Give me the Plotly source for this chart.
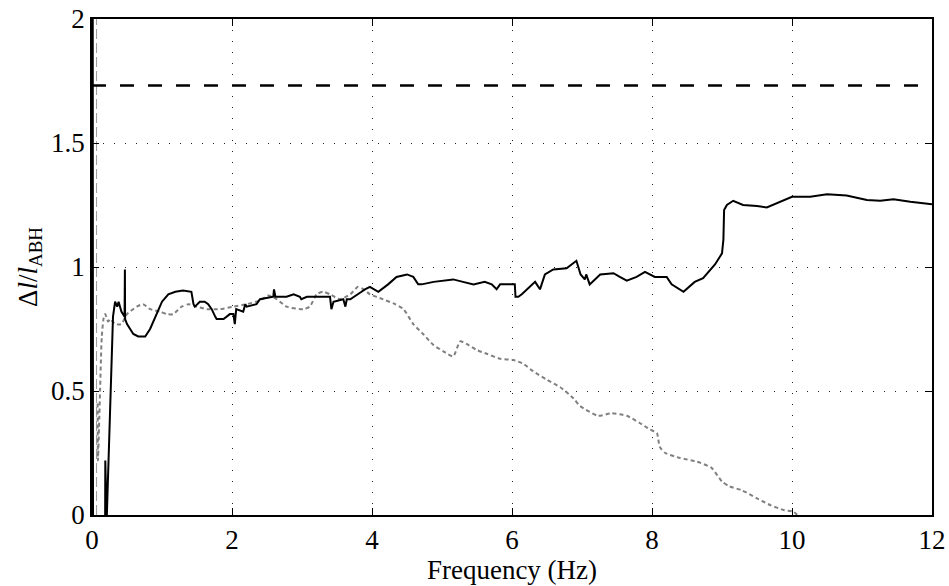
import plotly.graph_objects as go

# ---- data ----
black_x = [0.01, 0.015, 0.185, 0.19, 0.21, 0.30, 0.33, 0.36, 0.38, 0.42, 0.465, 0.47, 0.473, 0.50,
           0.59, 0.66, 0.76, 0.83, 0.92, 1.00, 1.09, 1.19, 1.30, 1.42, 1.45, 1.47, 1.54, 1.61,
           1.66, 1.71, 1.76, 1.78, 1.88, 1.97, 2.02, 2.04, 2.06, 2.16, 2.19, 2.21, 2.35, 2.40,
           2.59, 2.60, 2.62, 2.78, 2.88, 2.97, 2.99, 3.07, 3.26, 3.40, 3.42, 3.45, 3.59, 3.62,
           3.64, 3.69, 3.85, 3.90, 3.97, 4.09, 4.23, 4.35, 4.50, 4.59, 4.66, 4.71, 4.88, 5.16,
           5.30, 5.45, 5.61, 5.71, 5.78, 5.83, 6.04, 6.05, 6.09, 6.14, 6.33, 6.40, 6.47, 6.59,
           6.78, 6.92, 6.98, 7.04, 7.06, 7.11, 7.26, 7.45, 7.54, 7.64, 7.78, 7.90, 8.04, 8.21,
           8.28, 8.45, 8.61, 8.73, 8.90, 9.00, 9.02, 9.03, 9.07, 9.16, 9.30, 9.50, 9.64, 9.83,
           10.0, 10.26, 10.50, 10.78, 11.07, 11.26, 11.45, 11.69, 12.0]
black_y = [2.3, -0.3, -0.3, 0.22, -0.02, 0.80, 0.86, 0.84, 0.86, 0.82, 0.80, 0.99, 0.79, 0.77,
           0.73, 0.72, 0.72, 0.75, 0.81, 0.86, 0.89, 0.90, 0.905, 0.90, 0.85, 0.84, 0.86, 0.86,
           0.85, 0.83, 0.80, 0.79, 0.79, 0.81, 0.81, 0.77, 0.83, 0.82, 0.85, 0.84, 0.85, 0.87,
           0.88, 0.91, 0.88, 0.88, 0.89, 0.88, 0.87, 0.88, 0.88, 0.88, 0.83, 0.86, 0.87, 0.84,
           0.87, 0.87, 0.90, 0.91, 0.92, 0.90, 0.93, 0.96, 0.97, 0.96, 0.93, 0.93, 0.94, 0.95,
           0.94, 0.93, 0.94, 0.93, 0.91, 0.93, 0.93, 0.88, 0.88, 0.89, 0.94, 0.91, 0.97, 0.99,
           0.995, 1.025, 0.97, 0.95, 0.97, 0.93, 0.97, 0.975, 0.96, 0.945, 0.96, 0.98, 0.96, 0.96,
           0.93, 0.90, 0.94, 0.955, 1.01, 1.055, 1.11, 1.23, 1.25, 1.267, 1.25, 1.246, 1.24, 1.263,
           1.283, 1.283, 1.293, 1.288, 1.27, 1.267, 1.273, 1.263, 1.253]

gray_x = [0.08, 0.085, 0.10, 0.115, 0.14, 0.17, 0.19, 0.23, 0.26, 0.33, 0.42, 0.50, 0.64, 0.73,
          0.83, 0.97, 1.07, 1.16, 1.28, 1.38, 1.50, 1.64, 1.83, 2.02, 2.21, 2.40, 2.52, 2.64,
          2.78, 3.02, 3.11, 3.21, 3.30, 3.40, 3.54, 3.69, 3.80, 3.88, 3.97, 4.11, 4.33, 4.45,
          4.59, 4.73, 4.88, 5.02, 5.16, 5.26, 5.35, 5.50, 5.64, 5.83, 6.02, 6.16, 6.30, 6.50,
          6.69, 6.88, 6.97, 7.23, 7.42, 7.64, 7.83, 7.97, 8.07, 8.11, 8.19, 8.40, 8.64, 8.85,
          9.00, 9.11, 9.28, 9.50, 9.69, 9.88, 10.02, 10.11]
gray_y = [0.45, 0.22, 0.35, 0.50, 0.72, 0.80, 0.81, 0.78, 0.79, 0.77, 0.77, 0.81, 0.84, 0.85,
          0.83, 0.82, 0.81, 0.81, 0.84, 0.85, 0.84, 0.83, 0.83, 0.84, 0.85, 0.865, 0.885, 0.87,
          0.84, 0.83, 0.84, 0.89, 0.90, 0.89, 0.87, 0.89, 0.92, 0.91, 0.89, 0.875, 0.85, 0.83,
          0.77, 0.73, 0.685, 0.66, 0.64, 0.70, 0.69, 0.665, 0.65, 0.63, 0.625, 0.61, 0.58, 0.545,
          0.515, 0.47, 0.44, 0.40, 0.41, 0.40, 0.37, 0.345, 0.33, 0.275, 0.25, 0.23, 0.215, 0.19,
          0.135, 0.115, 0.10, 0.067, 0.04, 0.02, 0.013, -0.01]

cutoff_x = [0.065, 0.065]
cutoff_y = [0.0, 2.0]

limit_x = [0.0, 12.0]
limit_y = [1.732, 1.732]

x_ticks = [0, 2, 4, 6, 8, 10, 12]
y_ticks = [0, 0.5, 1, 1.5, 2]
y_ticktext = ["0", "0.5", "1", "1.5", "2"]

FONT = "Liberation Serif"
FS = 27

fig = go.Figure()
fig.add_trace(go.Scatter(x=cutoff_x, y=cutoff_y, mode="lines",
                         line=dict(color="#9a9a9a", width=1, dash="10px,4px"),
                         showlegend=False, hoverinfo="skip"))
fig.add_trace(go.Scatter(x=limit_x, y=limit_y, mode="lines",
                         line=dict(color="black", width=2.5, dash="14px,14px"),
                         showlegend=False))
fig.add_trace(go.Scatter(x=gray_x, y=gray_y, mode="lines",
                         line=dict(color="#808080", width=2, dash="4px,3px", shape="spline", smoothing=0.6),
                         showlegend=False))
fig.add_trace(go.Scatter(x=black_x, y=black_y, mode="lines",
                         line=dict(color="black", width=2),
                         showlegend=False))

axis_common = dict(showline=True, linecolor="black", linewidth=1.5, mirror="ticks",
                   ticks="inside", ticklen=7, tickcolor="black", tickwidth=1,
                   showgrid=True, gridcolor="#222", gridwidth=1, griddash="1px,10px",
                   zeroline=False, tickfont=dict(family=FONT, size=FS, color="black"))

fig.update_xaxes(range=[0, 12], tickvals=x_ticks,
                 title=dict(text="Frequency (Hz)", font=dict(family=FONT, size=FS, color="black"),
                            standoff=0),
                 **axis_common)
fig.update_yaxes(range=[0, 2], tickvals=y_ticks, ticktext=y_ticktext,
                 title=dict(text="Δ<i>l</i>/<i>l</i><sub>ABH</sub>",
                            font=dict(family=FONT, size=FS, color="black"), standoff=6),
                 **axis_common)

fig.update_layout(width=949, height=586,
                  margin=dict(l=92, r=17, t=19, b=71, autoexpand=False),
                  paper_bgcolor="white", plot_bgcolor="white",
                  font=dict(family=FONT, size=FS, color="black"))

fig.write_html("out.html", config={"displayModeBar": False},
               post_script="document.body.style.margin='0px';document.body.style.overflow='hidden';")
